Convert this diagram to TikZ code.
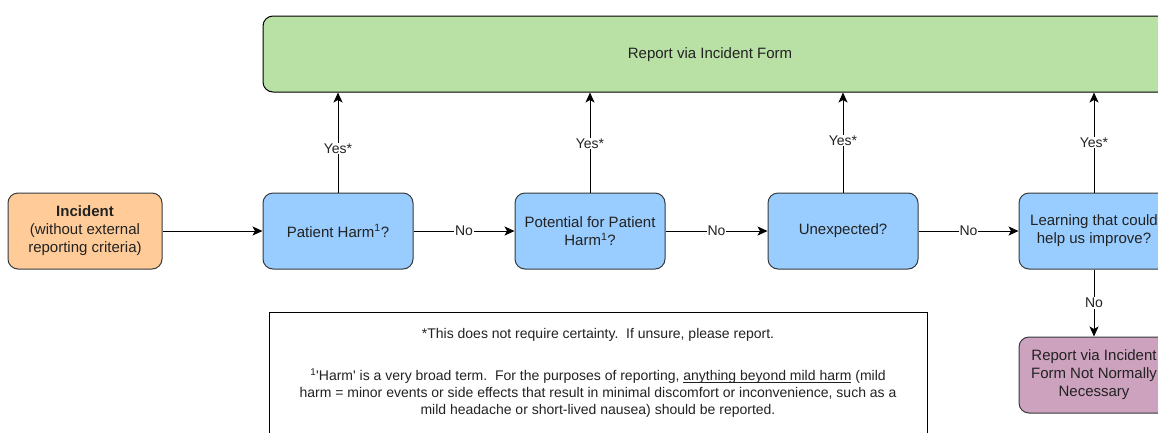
\documentclass[tikz,border=0pt]{standalone}
\usepackage{fontspec}
\newfontfamily\af{Liberation Sans}
\usetikzlibrary{arrows.meta}
\newcommand\myul[1]{\underline{\smash{#1}}}
\definecolor{incfill}{HTML}{FFCC99}
\definecolor{decfill}{HTML}{99CCFF}
\definecolor{grnfill}{HTML}{B9E0A5}
\definecolor{pnkfill}{HTML}{CDA2BE}
\definecolor{edgec}{HTML}{36393D}
\definecolor{txt}{HTML}{222222}
\begin{document}
\begin{tikzpicture}[x=1pt,y=-1pt,
  every node/.style={font=\af\fontsize{15}{18}\selectfont, text=txt},
  box/.style={draw=edgec, line width=1pt, rounded corners=10pt, minimum width=150pt, minimum height=76pt, align=center, inner sep=2pt},
  arr/.style={draw=black, line width=1pt, -{Stealth[length=10pt,width=9pt,inset=2.5pt]}},
  lbl/.style={fill=white, inner sep=1pt, font=\af\fontsize{14}{16}\selectfont},
  notetxt/.style={align=center, inner sep=0pt, font=\af\fontsize{14}{17}\selectfont}]
\useasboundingbox (0,0) rectangle (1158,432);
\fill[white] (0,0) rectangle (1158,432);
\clip (0,0) rectangle (1158,432);

\node[box, fill=grnfill, draw=black, minimum width=907pt] (green) at (716.5,54) {};
\node (greenlbl) at (710,55) {Report via Incident Form};

\node[box, fill=incfill, minimum width=154pt] (inc) at (85,231) {\textbf{Incident}\\(without external\\reporting criteria)};
\node[box, fill=decfill] (ph) at (338,231) {Patient Harm\textsuperscript{1}?};
\node[box, fill=decfill] (pp) at (590,231) {Potential for Patient\\Harm\textsuperscript{1}?};
\node[box, fill=decfill] (un) at (843,231) {Unexpected?};
\node[box, fill=decfill] (lr) at (1094,231) {Learning that could\\help us improve?};
\node[box, fill=pnkfill] (pk) at (1094,375) {Report via Incident\\Form Not Normally\\Necessary};

\draw[arr] (inc) -- (ph);
\draw[arr] (ph) -- node[lbl] {No} (pp);
\draw[arr] (pp) -- node[lbl] {No} (un);
\draw[arr] (un) -- node[lbl] {No} (lr);
\draw[arr] (lr) -- node[lbl] {No} (pk);

\draw[arr] (ph.north) -- node[lbl, pos=0.44] {Yes*} (ph.north |- green.south);
\draw[arr] (pp.north) -- node[lbl, pos=0.49] {Yes*} (pp.north |- green.south);
\draw[arr] (un.north) -- node[lbl, pos=0.52] {Yes*} (un.north |- green.south);
\draw[arr] (lr.north) -- node[lbl, pos=0.5] {Yes*} (lr.north |- green.south);

\node[draw=black, line width=1pt, minimum width=658pt, minimum height=140pt, anchor=north west, inner sep=0pt] (note) at (269,312) {};
\node[notetxt] (note1) at (598,335) {*This does not require certainty.\ \ If unsure, please report.};
\node[notetxt] (note2) at (598,393) {\textsuperscript{1}'Harm' is a very broad term.\ \ For the purposes of reporting, \myul{anything beyond mild harm} (mild\\harm = minor events or side effects that result in minimal discomfort or inconvenience, such as a\\mild headache or short-lived nausea) should be reported.};
\end{tikzpicture}
\end{document}
